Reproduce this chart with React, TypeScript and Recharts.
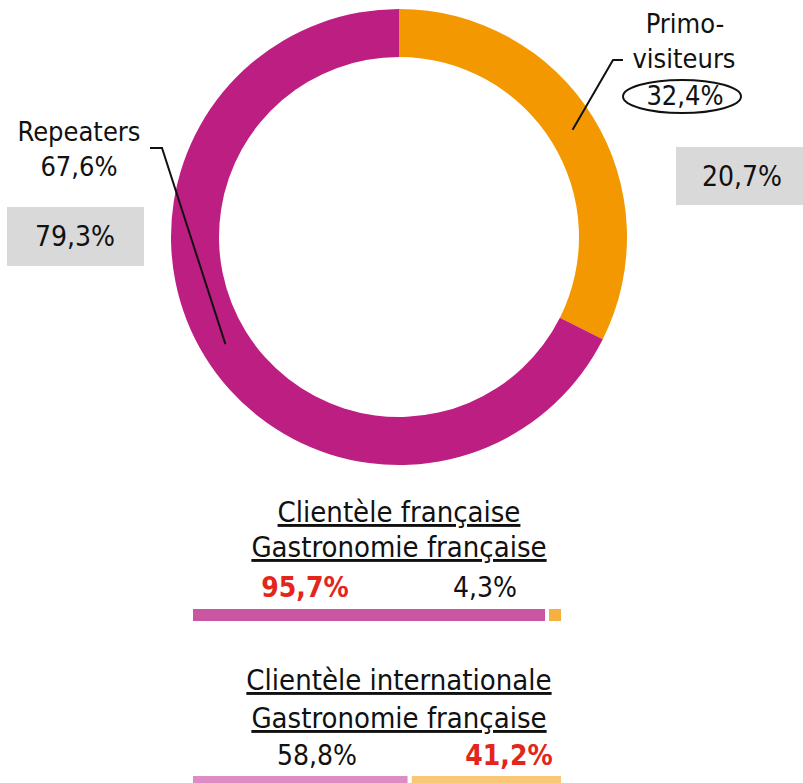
import React from 'react';
import { PieChart, Pie, Cell, BarChart, Bar, XAxis, YAxis } from 'recharts';

// donut: visitor profile
const segments = ['Primo-visiteurs', 'Repeaters'];
const shares = [32.4, 67.6];
const previousShares = [20.7, 79.3];
const donutColors = ['#F39800', '#BC1E81'];

// split bars: gastronomy française vs other
const barTitles = [
  ['Clientèle française', 'Gastronomie française'],
  ['Clientèle internationale', 'Gastronomie française'],
];
const gastroShares = [95.7, 58.8];
const otherShares = [4.3, 41.2];
const redIndex = [0, 1];
const barColors = [
  ['#CA55A0', '#F5B041'],
  ['#DD8DC2', '#F8C777'],
];

const FONT = '"DejaVu Sans Condensed", "DejaVu Sans", sans-serif';
const RAD = Math.PI / 180;
const fmt = (v: number) => v.toFixed(1).replace('.', ',') + '%';

const donutData = segments.map((name, i) => ({ name, value: shares[i], prev: previousShares[i] }));

function renderLabel(p: any) {
  const { cx, cy, midAngle, innerRadius, outerRadius, index } = p;
  const r = (innerRadius + outerRadius) / 2;
  const x = cx + r * Math.cos(-midAngle * RAD);
  const y = cy + r * Math.sin(-midAngle * RAD);
  const d = donutData[index];

  if (index === 0) {
    const [first, rest] = d.name.split('-');
    return (
      <g key="lbl0" fontFamily={FONT} fill="#111">
        <polyline points={`${x},${y} 613,60 623,60`} fill="none" stroke="#111" strokeWidth={2} />
        <text x={685} y={33} textAnchor="middle" fontSize={27}>{first + '-'}</text>
        <text x={684} y={68} textAnchor="middle" fontSize={27}>{rest}</text>
        <ellipse cx={682} cy={96.5} rx={59} ry={16.5} fill="none" stroke="#111" strokeWidth={2} />
        <text x={685} y={105} textAnchor="middle" fontSize={27}>{fmt(d.value)}</text>
        <rect x={676} y={147} width={127} height={58} fill="#D9D9D9" />
        <text x={742} y={186} textAnchor="middle" fontSize={28}>{fmt(d.prev)}</text>
      </g>
    );
  }
  return (
    <g key="lbl1" fontFamily={FONT} fill="#111">
      <polyline points={`${x},${y} 162,148 150,148`} fill="none" stroke="#111" strokeWidth={2} />
      <text x={79} y={141} textAnchor="middle" fontSize={27}>{d.name}</text>
      <text x={79} y={176} textAnchor="middle" fontSize={27}>{fmt(d.value)}</text>
      <rect x={7} y={207} width={137} height={59} fill="#D9D9D9" />
      <text x={75} y={246} textAnchor="middle" fontSize={28}>{fmt(d.prev)}</text>
    </g>
  );
}

const sections = [
  { titleY: [522, 557], pctY: 597, pctX: [305, 485], barTop: 607 },
  { titleY: [690, 728], pctY: 765, pctX: [317, 509], barTop: 774 },
];

function SplitBar({ row }: { row: number }) {
  const s = sections[row];
  const data = [{ name: barTitles[row][0], gastro: gastroShares[row], other: otherShares[row] }];
  const vals = [gastroShares[row], otherShares[row]];
  return (
    <>
      <svg width={803} height={783} style={{ position: 'absolute', left: 0, top: 0 }}>
        {barTitles[row].map((t, i) => (
          <text key={t + i} x={399} y={s.titleY[i]} textAnchor="middle" fontFamily={FONT} fontSize={29}
            fill="#111" style={{ textDecoration: 'underline' }}>{t}</text>
        ))}
        {vals.map((v, i) => (
          <text key={i} x={s.pctX[i]} y={s.pctY} textAnchor="middle" fontFamily={FONT}
            fontSize={28} fontWeight={redIndex[row] === i ? 'bold' : 'normal'}
            fill={redIndex[row] === i ? '#E3261B' : '#111'}>{fmt(v)}</text>
        ))}
      </svg>
      <div style={{ position: 'absolute', left: 191, top: s.barTop }}>
        <BarChart layout="vertical" width={372} height={16} data={data}
          margin={{ top: 0, right: 0, bottom: 0, left: 0 }} barCategoryGap={0}>
          <XAxis type="number" hide domain={[0, 100]} />
          <YAxis type="category" dataKey="name" hide />
          <Bar dataKey="gastro" stackId="s" fill={barColors[row][0]} stroke="#fff" strokeWidth={4} isAnimationActive={false} />
          <Bar dataKey="other" stackId="s" fill={barColors[row][1]} stroke="#fff" strokeWidth={4} isAnimationActive={false} />
        </BarChart>
      </div>
    </>
  );
}

export default function App() {
  return (
    <div style={{ position: 'absolute', left: 0, top: 0, width: 803, height: 783, overflow: 'hidden', background: '#fff' }}>
      <div style={{ position: 'absolute', left: 0, top: 0 }}>
        <PieChart width={803} height={480} margin={{ top: 0, right: 0, bottom: 0, left: 0 }}>
          <Pie data={donutData} dataKey="value" nameKey="name" cx={399} cy={237}
            innerRadius={180} outerRadius={228} startAngle={90} endAngle={-270}
            stroke="none" label={renderLabel} labelLine={false} isAnimationActive={false}>
            {donutData.map((d, i) => <Cell key={d.name} fill={donutColors[i]} />)}
          </Pie>
        </PieChart>
      </div>
      <SplitBar row={0} />
      <SplitBar row={1} />
    </div>
  );
}
